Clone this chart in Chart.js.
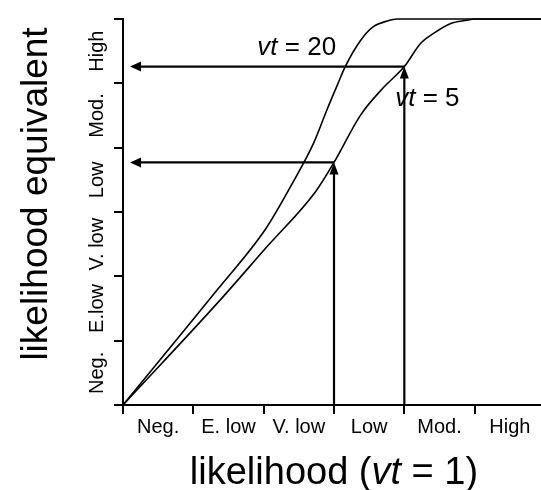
<!DOCTYPE html>
<html>
<head>
<meta charset="utf-8">
<script src="https://cdn.jsdelivr.net/npm/chart.js@4/dist/chart.umd.min.js"></script>
<style>
html, body { margin: 0; padding: 0; background: #fff; overflow: hidden; }
#wrap { width: 548px; height: 490px; }
</style>
</head>
<body>
<div id="wrap"><canvas id="chart"></canvas></div>
<script>
// likelihood classes along each axis
const xLevels = ['Neg.', 'E. low', 'V. low', 'Low', 'Mod.', 'High'];
const yLevels = ['Neg.', 'E.low', 'V. low', 'Low', 'Mod.', 'High'];

// vt = 20 curve
const vt20X = [0, 1.34, 2.03, 2.40, 2.71, 2.90, 3.05, 3.16, 3.38, 3.56, 3.76, 3.90, 6];
const vt20Y = [0, 1.79, 2.74, 3.43, 4.07, 4.59, 4.98, 5.26, 5.67, 5.88, 5.97, 6.00, 6];

// vt = 5 curve
const vt5X = [0, 1.38, 2.03, 2.74, 3.00, 3.38, 3.70, 4.00, 4.23, 4.42, 4.66, 4.89, 5.00, 6];
const vt5Y = [0, 1.63, 2.44, 3.32, 3.77, 4.51, 4.93, 5.26, 5.62, 5.78, 5.93, 5.98, 6.00, 6];

// read-off arrows: from x up to the vt = 5 curve, then across to the y axis
const arrowX = [3, 4];
const arrowY = [3.77, 5.26];

const FONT = '"Liberation Sans", Arial, sans-serif';

function toPoints(xs, ys) {
    return xs.map((x, i) => ({ x: x, y: ys[i] }));
}

function arrowHead(ctx, x, y, dir) {
    ctx.beginPath();
    if (dir === 'left') {
        ctx.moveTo(x, y);
        ctx.lineTo(x + 11, y - 5);
        ctx.lineTo(x + 11, y + 5);
    } else {
        ctx.moveTo(x, y);
        ctx.lineTo(x - 4.5, y + 12);
        ctx.lineTo(x + 4.5, y + 12);
    }
    ctx.closePath();
    ctx.fill();
}

function drawVt(ctx, x, y, rest, size) {
    ctx.font = 'italic ' + size + 'px ' + FONT;
    ctx.fillText('vt', x, y);
    const w = ctx.measureText('vt').width;
    ctx.font = size + 'px ' + FONT;
    ctx.fillText(rest, x + w, y);
}

const decorPlugin = {
    id: 'decor',
    afterDatasetsDraw(chart) {
        const { ctx, chartArea } = chart;
        const xs = chart.scales.x;
        const ys = chart.scales.y;
        ctx.save();
        ctx.fillStyle = '#000';
        ctx.strokeStyle = '#000';

        // arrows
        ctx.lineWidth = 2.2;
        arrowX.forEach((ax, i) => {
            const px = xs.getPixelForValue(ax);
            const py = ys.getPixelForValue(arrowY[i]);
            const tipX = xs.getPixelForValue(0.1);
            ctx.beginPath();
            ctx.moveTo(px, ys.getPixelForValue(0));
            ctx.lineTo(px, py + 10);
            ctx.stroke();
            arrowHead(ctx, px, py, 'up');
            ctx.beginPath();
            ctx.moveTo(px, py);
            ctx.lineTo(tipX + 9, py);
            ctx.stroke();
            arrowHead(ctx, tipX, py, 'left');
        });

        // category labels between the ticks
        ctx.font = '20px ' + FONT;
        ctx.textAlign = 'center';
        ctx.textBaseline = 'alphabetic';
        xLevels.forEach((lab, i) => {
            ctx.fillText(lab, xs.getPixelForValue(i + 0.5), 433);
        });
        yLevels.forEach((lab, i) => {
            ctx.save();
            ctx.translate(103, ys.getPixelForValue(i + 0.5));
            ctx.rotate(-Math.PI / 2);
            ctx.fillText(lab, 0, 0);
            ctx.restore();
        });

        // curve labels
        ctx.textAlign = 'left';
        drawVt(ctx, xs.getPixelForValue(1.91), ys.getPixelForValue(5.44), ' = 20', 26);
        drawVt(ctx, xs.getPixelForValue(3.87), ys.getPixelForValue(4.64), ' = 5', 26);

        // x title, with vt in italics
        const big = 38;
        const a = 'likelihood (';
        const b = 'vt';
        const c = ' = 1)';
        ctx.font = big + 'px ' + FONT;
        const wa = ctx.measureText(a).width;
        const wc = ctx.measureText(c).width;
        ctx.font = 'italic ' + big + 'px ' + FONT;
        const wb = ctx.measureText(b).width;
        const x0 = (chartArea.left + chartArea.right) / 2 - (wa + wb + wc) / 2;
        ctx.font = big + 'px ' + FONT;
        ctx.fillText(a, x0, 484);
        ctx.font = 'italic ' + big + 'px ' + FONT;
        ctx.fillText(b, x0 + wa, 484);
        ctx.font = big + 'px ' + FONT;
        ctx.fillText(c, x0 + wa + wb, 484);

        // y title
        ctx.save();
        ctx.font = '37px ' + FONT;
        ctx.translate(47, 194);
        ctx.rotate(-Math.PI / 2);
        ctx.textAlign = 'center';
        ctx.fillText('likelihood equivalent', 0, 0);
        ctx.restore();

        ctx.restore();
    }
};

const axisOpts = {
    type: 'linear',
    min: 0,
    max: 6,
    ticks: { display: false, stepSize: 1 },
    grid: { drawOnChartArea: false, drawTicks: true, tickLength: 9, color: '#000', lineWidth: 2 },
    border: { display: true, color: '#000', width: 2 }
};

new Chart(document.getElementById('chart'), {
    type: 'line',
    data: {
        datasets: [
            { label: 'vt = 20', data: toPoints(vt20X, vt20Y) },
            { label: 'vt = 5', data: toPoints(vt5X, vt5Y) }
        ]
    },
    options: {
        responsive: true,
        maintainAspectRatio: false,
        animation: false,
        layout: { autoPadding: false, padding: { left: 114, top: 19, right: 3, bottom: 76 } },
        elements: {
            line: { borderColor: '#000', borderWidth: 1.6, cubicInterpolationMode: 'monotone', fill: false },
            point: { radius: 0, hoverRadius: 0 }
        },
        datasets: { line: { clip: 4 } },
        scales: {
            x: axisOpts,
            y: axisOpts
        },
        plugins: {
            legend: { display: false },
            tooltip: { enabled: false }
        }
    },
    plugins: [decorPlugin]
});
</script>
</body>
</html>
